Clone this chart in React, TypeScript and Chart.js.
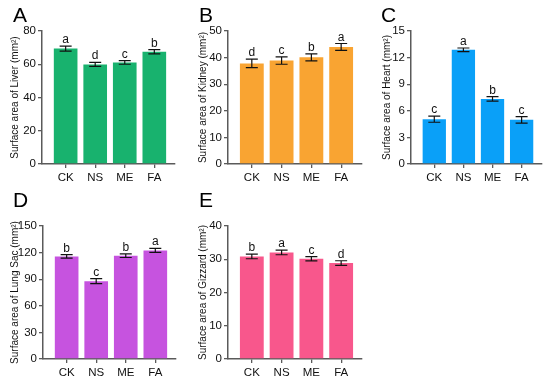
import React, { useEffect, useRef } from "react";
import { Chart, registerables } from "chart.js";

Chart.register(...registerables);

const categories = ["CK", "NS", "ME", "FA"];

const liverMeans = [69.4, 59.9, 61.1, 67.5];
const liverErrors = [1.5, 1.2, 1.1, 1.3];
const liverLetters = ["a", "d", "c", "b"];

const kidneyMeans = [37.8, 38.9, 40.1, 44.0];
const kidneyErrors = [1.6, 1.4, 1.3, 1.3];
const kidneyLetters = ["d", "c", "b", "a"];

const heartMeans = [5.05, 12.88, 7.34, 4.98];
const heartErrors = [0.34, 0.2, 0.25, 0.37];
const heartLetters = ["c", "a", "b", "c"];

const lungMeans = [115.7, 87.8, 116.5, 122.5];
const lungErrors = [2.0, 2.8, 2.0, 2.3];
const lungLetters = ["b", "c", "b", "a"];

const gizzardMeans = [30.85, 32.06, 30.15, 28.85];
const gizzardErrors = [0.7, 0.7, 0.65, 0.7];
const gizzardLetters = ["b", "a", "c", "d"];

const FONT = '"Liberation Sans", Arial, Helvetica, sans-serif';

type Panel = {
  tag: string;
  title: string;
  means: number[];
  errors: number[];
  letters: string[];
  color: string;
  yMax: number;
  yStep: number;
  x: number;
  y: number;
  w: number;
  h: number;
  l: number;
  t: number;
  r: number;
  b: number;
  titlePad: number;
};

const panels: Panel[] = [
  { tag: "A", title: "Surface area of Liver (mm²)", means: liverMeans, errors: liverErrors, letters: liverLetters, color: "#18b26e", yMax: 80, yStep: 20, x: 0, y: 0, w: 185, h: 185, l: 42, t: 31, r: 175, b: 164, titlePad: 9 },
  { tag: "B", title: "Surface area of Kidney (mm²)", means: kidneyMeans, errors: kidneyErrors, letters: kidneyLetters, color: "#f9a432", yMax: 50, yStep: 10, x: 180, y: 0, w: 185, h: 185, l: 228, t: 31, r: 362, b: 164, titlePad: 17 },
  { tag: "C", title: "Surface area of Heart (mm²)", means: heartMeans, errors: heartErrors, letters: heartLetters, color: "#0aa0f8", yMax: 15, yStep: 3, x: 360, y: 0, w: 190, h: 185, l: 411, t: 31, r: 542, b: 164, titlePad: 21 },
  { tag: "D", title: "Surface area of Lung Sac (mm²)", means: lungMeans, errors: lungErrors, letters: lungLetters, color: "#c653df", yMax: 150, yStep: 30, x: 0, y: 185, w: 185, h: 195, l: 43, t: 226, r: 176, b: 359, titlePad: 9 },
  { tag: "E", title: "Surface area of Gizzard (mm²)", means: gizzardMeans, errors: gizzardErrors, letters: gizzardLetters, color: "#f8578c", yMax: 40, yStep: 10, x: 180, y: 185, w: 185, h: 195, l: 228, t: 226, r: 362, b: 359, titlePad: 17 },
];

function PanelChart({ p }: { p: Panel }) {
  const ref = useRef<HTMLCanvasElement>(null);
  useEffect(() => {
    if (!ref.current) return;
    const axisColor = "#5a5a5a";
    const errPlugin = {
      id: "errLetters",
      afterDatasetsDraw(chart: any) {
        const ctx = chart.ctx;
        const ys = chart.scales.y;
        const meta = chart.getDatasetMeta(0);
        ctx.save();
        meta.data.forEach((bar: any, i: number) => {
          const m = p.means[i];
          const e = p.errors[i];
          const x = bar.x;
          const yt = ys.getPixelForValue(m + e);
          const yb = ys.getPixelForValue(m - e);
          ctx.strokeStyle = "#111";
          ctx.lineWidth = 1.2;
          ctx.beginPath();
          ctx.moveTo(x, yt);
          ctx.lineTo(x, yb);
          ctx.moveTo(x - 6, yt);
          ctx.lineTo(x + 6, yt);
          ctx.moveTo(x - 6, yb);
          ctx.lineTo(x + 6, yb);
          ctx.stroke();
          ctx.fillStyle = "#111";
          ctx.font = `12px ${FONT}`;
          ctx.textAlign = "center";
          ctx.textBaseline = "alphabetic";
          ctx.fillText(p.letters[i], x, yt - 3);
        });
        ctx.restore();
      },
    };
    const chart = new Chart(ref.current, {
      type: "bar",
      data: {
        datasets: [
          {
            data: p.means.map((v, i) => ({ x: i, y: v })),
            backgroundColor: p.color,
            borderWidth: 0,
            barPercentage: 0.8,
            categoryPercentage: 1,
          },
        ],
      },
      options: {
        animation: false,
        responsive: false,
        devicePixelRatio: 1,
        layout: { padding: { left: 0, top: p.t - p.y, right: p.x + p.w - p.r, bottom: 0 } },
        plugins: { legend: { display: false }, tooltip: { enabled: false } },
        scales: {
          x: {
            type: "linear",
            offset: false,
            min: -0.8,
            max: 3.7,
            afterBuildTicks: (s: any) => {
              s.ticks = categories.map((_, i) => ({ value: i }));
            },
            afterFit: (s: any) => {
              s.height = p.y + p.h - p.b;
            },
            ticks: {
              callback: (v: any) => categories[v] ?? "",
              font: { size: 11.5, family: FONT },
              color: "#111",
              padding: 3,
              maxRotation: 0,
              autoSkip: false,
            },
            grid: { offset: false, drawOnChartArea: false, drawTicks: true, tickLength: 4, color: axisColor, lineWidth: 1.3 },
            border: { display: true, color: axisColor, width: 1.5 },
          },
          y: {
            min: 0,
            max: p.yMax,
            afterFit: (s: any) => {
              s.width = p.l - p.x;
            },
            ticks: {
              stepSize: p.yStep,
              font: { size: 11.5, family: FONT },
              color: "#111",
              padding: 2,
            },
            grid: { drawOnChartArea: false, drawTicks: true, tickLength: 4, color: axisColor, lineWidth: 1.3 },
            border: { display: true, color: axisColor, width: 1.5 },
            title: {
              display: true,
              text: p.title,
              font: { size: 10, family: FONT },
              color: "#111",
              padding: { top: p.titlePad, bottom: 0 },
            },
          },
        },
      },
      plugins: [errPlugin],
    } as any);
    return () => chart.destroy();
  }, [p]);
  return (
    <canvas
      ref={ref}
      width={p.w}
      height={p.h}
      style={{ position: "absolute", left: p.x, top: p.y, width: p.w, height: p.h }}
    />
  );
}

export default function App() {
  return (
    <div style={{ position: "absolute", left: 0, top: 0, width: 550, height: 380, background: "#fff", overflow: "hidden" }}>
      {panels.map((p) => (
        <PanelChart key={p.tag} p={p} />
      ))}
      {panels.map((p) => (
        <div
          key={"t" + p.tag}
          style={{
            position: "absolute",
            left: p.tag === "A" || p.tag === "D" ? 13 : p.tag === "C" ? 381 : 199,
            top: p.y + 4,
            fontFamily: FONT,
            fontSize: 21,
            lineHeight: 1,
            color: "#000",
          }}
        >
          {p.tag}
        </div>
      ))}
    </div>
  );
}
